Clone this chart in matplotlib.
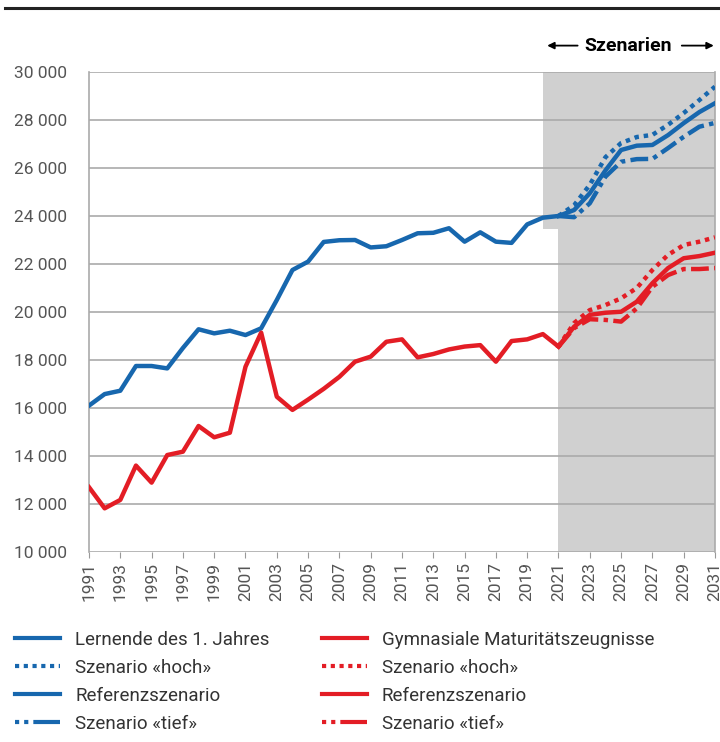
import numpy as np
import matplotlib
matplotlib.use("Agg")
import matplotlib.pyplot as plt
from matplotlib.lines import Line2D
from matplotlib.patches import Rectangle
from matplotlib.ticker import FuncFormatter

plt.rcParams['font.family'] = ['Roboto', 'DejaVu Sans']

# historical values 1991-2021
years_hist = list(range(1991, 2022))
lernende = [16100, 16580, 16720, 17750, 17750, 17650, 18500, 19280, 19110, 19220,
            19040, 19320, 20500, 21750, 22100, 22920, 22990, 23000, 22690, 22740,
            23000, 23280, 23300, 23490, 22930, 23320, 22930, 22880, 23650, 23930,
            24000]
matur = [12700, 11820, 12170, 13600, 12890, 14040, 14180, 15250, 14780, 14970,
         17720, 19140, 16470, 15920, 16350, 16800, 17300, 17930, 18140, 18760,
         18860, 18110, 18250, 18440, 18560, 18620, 17930, 18790, 18860, 19080,
         18560]

# scenarios 2021-2031
years_scen = list(range(2021, 2032))
lern_hoch = [24000, 24450, 25300, 26450, 27040, 27290, 27380, 27800, 28290, 28830, 29390]
lern_ref = [24000, 24250, 24950, 25900, 26750, 26930, 26960, 27370, 27870, 28330, 28700]
lern_tief = [24000, 23950, 24530, 25640, 26260, 26370, 26380, 26830, 27300, 27720, 27880]
mat_hoch = [18560, 19540, 20080, 20290, 20570, 21000, 21750, 22380, 22790, 22930, 23110]
mat_ref = [18560, 19390, 19880, 19970, 20010, 20430, 21200, 21830, 22240, 22330, 22470]
mat_tief = [18560, 19330, 19700, 19670, 19600, 20150, 21050, 21540, 21790, 21790, 21830]

xticks = list(range(1991, 2032, 2))

blue = '#1767ae'
red = '#e31d25'
grey_txt = '#555555'
dotted = (0, (1, 1.1))
dashdot = (0, (4, 1.2, 1, 1.2))

fig = plt.figure(figsize=(7.2, 7.42), dpi=100)
ax = fig.add_axes([89 / 720, 1 - 552 / 742, (715 - 89) / 720, (552 - 72) / 742])

# shaded scenario area
ax.add_patch(Rectangle((2020, 23450), 11, 30000 - 23450, color='#d0d0d0', lw=0, zorder=0))
ax.add_patch(Rectangle((2021, 10000), 10, 20000, color='#d0d0d0', lw=0, zorder=0))

ax.plot(years_hist, lernende, color=blue, lw=3.2, solid_joinstyle='round', zorder=3)
ax.plot(years_hist, matur, color=red, lw=3.2, solid_joinstyle='round', zorder=3)

ax.plot(years_scen, lern_hoch, color=blue, lw=3.2, ls=dotted, zorder=3)
ax.plot(years_scen, lern_ref, color=blue, lw=3.2, zorder=3)
ax.plot(years_scen, lern_tief, color=blue, lw=3.2, ls=dashdot, zorder=3)
ax.plot(years_scen, mat_hoch, color=red, lw=3.2, ls=dotted, zorder=3)
ax.plot(years_scen, mat_ref, color=red, lw=3.2, zorder=3)
ax.plot(years_scen, mat_tief, color=red, lw=3.2, ls=dashdot, zorder=3)

ax.set_xlim(1991, 2031)
ax.set_ylim(10000, 30000)
ax.set_yticks(range(10000, 30001, 2000))
ax.yaxis.set_major_formatter(FuncFormatter(lambda v, p: f"{int(v):,}".replace(",", " ")))
ax.set_xticks(xticks)
ax.set_xticklabels([str(y) for y in xticks], rotation=90)
ax.tick_params(axis='y', length=0, pad=16, labelsize=12.5, labelcolor=grey_txt)
ax.tick_params(axis='x', length=4, color='#999999', labelsize=12.5, labelcolor=grey_txt, pad=3)
ax.grid(axis='y', color='#aaaaaa', lw=1.2, zorder=1)
ax.set_axisbelow(True)
for s in ['top', 'bottom']:
    ax.spines[s].set_visible(False)
for s in ['left', 'right']:
    ax.spines[s].set_color('#aaaaaa')
    ax.spines[s].set_linewidth(1.2)

# "Szenarien" header with arrows
ax.text(2025.45, 1.055, "Szenarien", transform=ax.get_xaxis_transform(),
        ha='center', va='center', fontsize=14, fontweight='bold')
ax.annotate("", xy=(2020.1, 1.055), xytext=(2022.4, 1.055), xycoords=ax.get_xaxis_transform(),
            arrowprops=dict(arrowstyle='-|>', color='k', lw=1.3, mutation_scale=10))
ax.annotate("", xy=(2031.1, 1.055), xytext=(2028.7, 1.055), xycoords=ax.get_xaxis_transform(),
            arrowprops=dict(arrowstyle='-|>', color='k', lw=1.3, mutation_scale=10),
            annotation_clip=False)

# top rule
fig.add_artist(Line2D([0.007, 1.0], [0.989, 0.989], transform=fig.transFigure, color='#222222', lw=2.2))

# legend
handles = [
    Line2D([], [], color=blue, lw=3),
    Line2D([], [], color=blue, lw=3, ls=dotted),
    Line2D([], [], color=blue, lw=3),
    Line2D([], [], color=blue, lw=3, ls=(0, (1, 1.2, 1, 1.2, 8, 1))),
    Line2D([], [], color=red, lw=3),
    Line2D([], [], color=red, lw=3, ls=dotted),
    Line2D([], [], color=red, lw=3),
    Line2D([], [], color=red, lw=3, ls=(0, (1, 1.2, 1, 1.2, 8, 1))),
]
labels = ["Lernende des 1. Jahres", "Szenario «hoch»", "Referenzszenario", "Szenario «tief»",
          "Gymnasiale Maturitätszeugnisse", "Szenario «hoch»", "Referenzszenario", "Szenario «tief»"]
leg = fig.legend(handles, labels, ncol=2, loc='upper left', bbox_to_anchor=(0.021, 0.15),
                 frameon=False, fontsize=13.5, handlelength=2.4, handletextpad=0.8,
                 columnspacing=2.8, labelspacing=0.53, borderaxespad=0, borderpad=0)
for t in leg.get_texts():
    t.set_color('#333333')

fig.savefig("out.png", dpi=100)
